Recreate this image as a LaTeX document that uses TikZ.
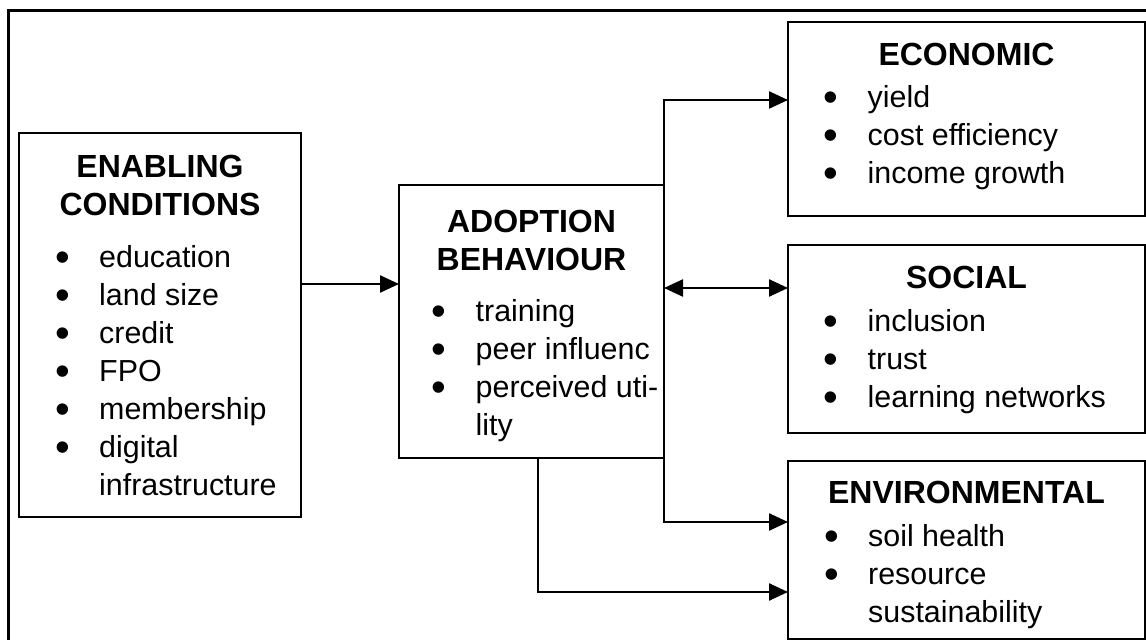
\documentclass[tikz,border=0pt]{standalone}
\usepackage{fontspec}
\setmainfont{Liberation Sans}
\usetikzlibrary{arrows.meta}

\newcommand\bitem[1]{\makebox[44pt][l]{\raisebox{-4pt}{\fontsize{42}{0}\selectfont\textbullet}}#1\par}
\newcommand\bcont[1]{\hspace*{44pt}#1\par}

\begin{document}
\begin{tikzpicture}
[x=1pt,y=1pt,
 box/.style={rectangle,draw,line width=2.6pt,inner sep=0pt,outer sep=0pt},
 ttl/.style={inner sep=0pt,anchor=base,font=\fontsize{32}{38}\selectfont\bfseries},
 items/.style={inner sep=0pt,anchor=base west,font=\fontsize{30.4}{38}\selectfont},
 arr/.style={line width=2.4pt,-{Triangle[length=19pt,width=17pt]}}]
\useasboundingbox (0,0) rectangle (1146,640);
%outer frame
\draw[line width=3pt] (1146,629) -- (8,629) -- (8,0);
%boxes
\node[box,minimum width=282,minimum height=384] (Enabling) at (160,315) {};
\node[box,minimum width=265,minimum height=273] (Adoption) at (531.5,318.5) {};
\node[box,minimum width=357,minimum height=194] (Economic) at (966.5,521) {};
\node[box,minimum width=357,minimum height=188] (Social) at (966.5,301) {};
\node[box,minimum width=357,minimum height=178] (Environmental) at (966.5,90) {};
%titles
\node[ttl] (EnablingTitle) at (160,462) {\parbox[t]{270pt}{\centering ENABLING\\CONDITIONS}};
\node[ttl] (AdoptionTitle) at (531.5,407) {\parbox[t]{260pt}{\centering ADOPTION\\BEHAVIOUR}};
\node[ttl] (EconomicTitle) at (966.5,574) {ECONOMIC};
\node[ttl] (SocialTitle) at (966.5,351) {SOCIAL};
\node[ttl] (EnvironmentalTitle) at (966.5,136) {ENVIRONMENTAL};
%lists
\node[items] (EnablingList) at (55,372) {\parbox[t]{240pt}{%
  \bitem{education}\bitem{land size}\bitem{credit}\bitem{FPO}%
  \bitem{membership}\bitem{digital}\bcont{infrastructure}}};
\node[items] (AdoptionList) at (431.5,318) {\parbox[t]{230pt}{%
  \bitem{training}\bitem{peer influenc}\bitem{perceived uti-}\bcont{lity}}};
\node[items] (EconomicList) at (823.5,532) {\parbox[t]{310pt}{%
  \bitem{yield}\bitem{cost efficiency}\bitem{income growth}}};
\node[items] (SocialList) at (823.5,308) {\parbox[t]{310pt}{%
  \bitem{inclusion}\bitem{trust}\bitem{learning networks}}};
\node[items] (EnvironmentalList) at (824,93) {\parbox[t]{310pt}{%
  \bitem{soil health}\bitem{resource}\bcont{sustainability}}};
%connectors
\draw[arr] ([yshift=41]Enabling.east) -- ([yshift=41]Enabling.east -| Adoption.west);
\draw[arr,{Triangle[length=19pt,width=17pt]}-{Triangle[length=19pt,width=17pt]}]
  ([yshift=33.5]Adoption.east) -- ([yshift=33.5]Adoption.east -| Social.west);
\draw[arr] (Adoption.north east) |- ([yshift=19]Economic.west);
\draw[arr] (Adoption.south east) |- ([yshift=28]Environmental.west);
\draw[arr] ([xshift=6.5]Adoption.south) |- ([yshift=-42]Environmental.west);
\end{tikzpicture}
\end{document}
